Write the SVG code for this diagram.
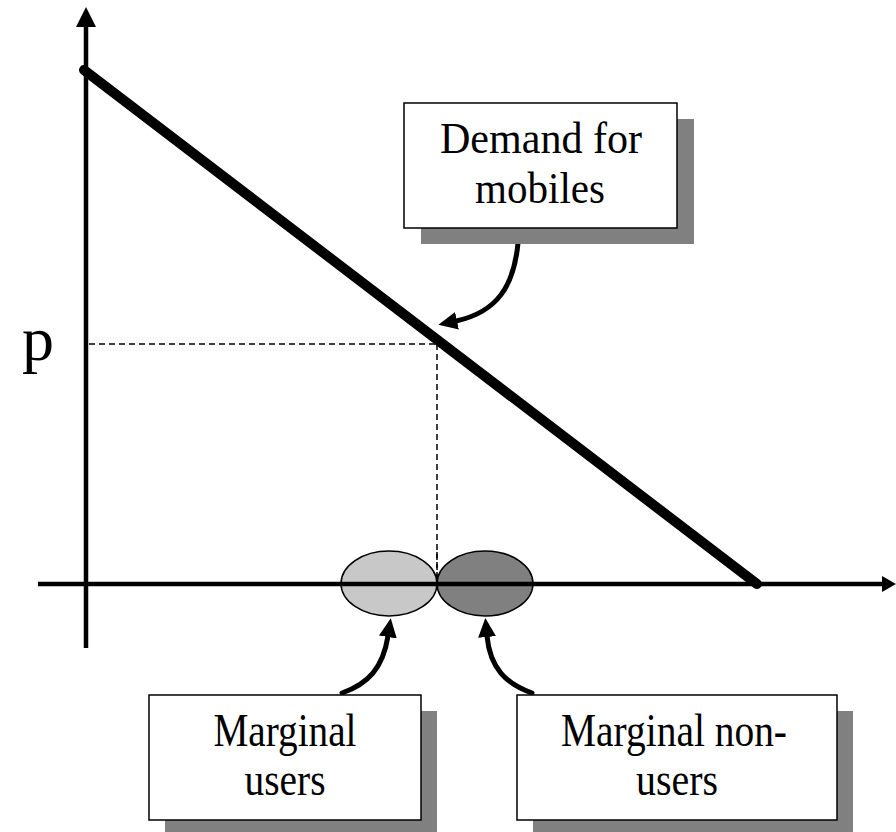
<svg xmlns="http://www.w3.org/2000/svg" width="896" height="832" viewBox="0 0 896 832">
  <style>
    .axis { stroke: #000; stroke-width: 4.5; fill: none; }
    .demand { stroke: #000; stroke-width: 10; stroke-linecap: round; fill: none; }
    .guide { stroke: #000; stroke-width: 1.5; stroke-dasharray: 6 4; fill: none; }
    .pointer { stroke: #000; stroke-width: 5; fill: none; stroke-linecap: round; }
    .box { fill: #fff; stroke: #000; stroke-width: 1.5; }
    .shadow { fill: #808080; }
    .label { font-family: "Liberation Serif", "Times New Roman", serif; fill: #000; text-anchor: middle; }
    .top-label { font-size: 44px; }
    .bottom-label { font-size: 47px; }
    .blob { stroke: #000; stroke-width: 1.5; }
  </style>
  <defs>
    <marker id="head" markerUnits="userSpaceOnUse" markerWidth="24" markerHeight="22" refX="1" refY="9" orient="auto">
      <path d="M0,0 L19,9 L0,18 z" fill="#000"/>
    </marker>
  </defs>

  <g id="axes">
    <line class="axis" x1="86" y1="24" x2="86" y2="648"/>
    <polygon points="86,7 76,27 96,27" fill="#000"/>
  </g>

  <g id="price-guides">
    <line class="guide" x1="89" y1="344" x2="437" y2="344"/>
    <line class="guide" x1="437" y1="344" x2="437" y2="582"/>
  </g>

  <g id="demand-curve">
    <line class="demand" x1="84" y1="70" x2="757" y2="584"/>
  </g>

  <g id="marginal-users-blob">
    <ellipse class="blob" cx="389" cy="583.5" rx="48" ry="32.5" fill="#c8c8c8"/>
  </g>
  <g id="marginal-nonusers-blob">
    <ellipse class="blob" cx="485" cy="583.5" rx="48" ry="32.5" fill="#808080"/>
  </g>

  <g id="quantity-axis">
    <line class="axis" x1="38" y1="584" x2="885" y2="584"/>
    <polygon points="896,584 882,576 882,592" fill="#000"/>
    <line class="guide" x1="437" y1="552" x2="437" y2="582"/>
  </g>

  <g id="p-label">
    <text x="38" y="360" font-family="Liberation Serif, Times New Roman, serif" font-size="64" text-anchor="middle">p</text>
  </g>

  <g id="connectors">
    <path class="pointer" d="M518,243 C514,285 498,312 456,321" marker-end="url(#head)"/>
    <path class="pointer" d="M342,693 C368,684 383,668 388,636" marker-end="url(#head)"/>
    <path class="pointer" d="M532,693 C506,684 490,668 487,636" marker-end="url(#head)"/>
  </g>

  <g id="demand-box">
    <rect class="shadow" x="421" y="119" width="273" height="125"/>
    <rect class="box" x="404" y="103" width="273" height="125"/>
    <text class="label top-label" x="541" y="153" textLength="202" lengthAdjust="spacingAndGlyphs">Demand for</text>
    <text class="label top-label" x="540" y="203" textLength="130" lengthAdjust="spacingAndGlyphs">mobiles</text>
  </g>

  <g id="marginal-users-box">
    <rect class="shadow" x="165" y="711" width="272" height="125"/>
    <rect class="box" x="149" y="695" width="272" height="125"/>
    <text class="label bottom-label" x="285" y="746" textLength="143" lengthAdjust="spacingAndGlyphs">Marginal</text>
    <text class="label bottom-label" x="285" y="795" textLength="81" lengthAdjust="spacingAndGlyphs">users</text>
  </g>

  <g id="marginal-nonusers-box">
    <rect class="shadow" x="533" y="711" width="320" height="125"/>
    <rect class="box" x="517" y="695" width="320" height="125"/>
    <text class="label bottom-label" x="674" y="746" textLength="226" lengthAdjust="spacingAndGlyphs">Marginal non-</text>
    <text class="label bottom-label" x="677" y="795" textLength="82" lengthAdjust="spacingAndGlyphs">users</text>
  </g>
</svg>
